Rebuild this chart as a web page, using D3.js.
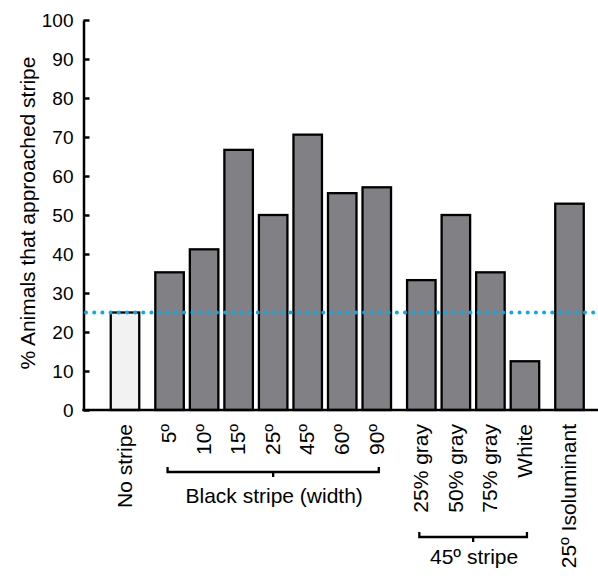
<!DOCTYPE html>
<html>
<head>
<meta charset="utf-8">
<script src="https://cdn.jsdelivr.net/npm/d3@7/dist/d3.min.js"></script>
<style>
  body { margin: 0; background: #fff; }
  text { font-family: "Liberation Sans", Arial, sans-serif; fill: #000; }
</style>
</head>
<body>
<div id="chart"></div>
<script>
const categories = ['No stripe', '5º', '10º', '15º', '25º', '45º', '60º', '90º',
  '25% gray', '50% gray', '75% gray', 'White', '25º Isoluminant'];
const values = [25, 35.3, 41.2, 66.7, 50, 70.6, 55.6, 57.1, 33.3, 50, 35.3, 12.5, 52.9];
const groups = [0, 1, 1, 1, 1, 1, 1, 1, 2, 2, 2, 2, 3];
const controlCategory = 'No stripe';
const yTicks = [0, 10, 20, 30, 40, 50, 60, 70, 80, 90, 100];
const chanceLevel = 25;
const bracketLabels = ['Black stripe (width)', '45º stripe'];
const bracketFrom = ['5º', '25% gray'];
const bracketTo = ['90º', 'White'];

const W = 598, H = 578;
const svg = d3.select('#chart').append('svg').attr('width', W).attr('height', H);

// slot index with extra gap between groups
const GROUP_GAP = 0.29;
const slot = i => i + groups[i] * GROUP_GAP;
const x = d3.scaleLinear().domain([0, slot(categories.length - 1)]).range([125, 569.5]);
const y = d3.scaleLinear().domain([0, 100]).range([410, 20]);
const barW = 28.5;
const xc = c => x(slot(categories.indexOf(c)));

// bars
svg.append('g').selectAll('rect')
  .data(categories).join('rect')
    .attr('x', (d, i) => x(slot(i)) - barW / 2)
    .attr('y', (d, i) => y(values[i]))
    .attr('width', barW)
    .attr('height', (d, i) => y(0) - y(values[i]))
    .attr('fill', d => d === controlCategory ? '#f2f2f2' : '#818085')
    .attr('stroke', '#000').attr('stroke-width', 2.3);

// y axis, ticks pointing inward
const yAxis = svg.append('g').attr('transform', 'translate(83.5,0)')
  .call(d3.axisLeft(y).tickValues(yTicks).tickSize(-6).tickSizeOuter(0).tickPadding(10));
yAxis.select('.domain').attr('stroke', '#000').attr('stroke-width', 2.5);
yAxis.selectAll('.tick line').attr('stroke', '#000').attr('stroke-width', 2.5);
yAxis.selectAll('.tick text').attr('font-size', '19px')
  .style('font-family', '"Liberation Sans", Arial, sans-serif').attr('fill', '#000');

// baseline
svg.append('line')
  .attr('x1', 82.3).attr('x2', W).attr('y1', y(0)).attr('y2', y(0))
  .attr('stroke', '#000').attr('stroke-width', 2.5);

// chance level (dotted)
svg.append('line')
  .attr('x1', 86).attr('x2', W).attr('y1', y(chanceLevel)).attr('y2', y(chanceLevel))
  .attr('stroke', '#00aeef').attr('stroke-width', 4)
  .attr('stroke-linecap', 'round').attr('stroke-dasharray', '0.01 8.17');

// y title
svg.append('text')
  .attr('transform', `translate(35,${y(50) - 2}) rotate(-90)`)
  .attr('text-anchor', 'middle').attr('font-size', '21px')
  .text('% Animals that approached stripe');

// category labels
svg.append('g').selectAll('text')
  .data(categories).join('text')
    .attr('transform', (d, i) => `translate(${x(slot(i))},424) rotate(-90)`)
    .attr('text-anchor', 'end').attr('dy', '0.32em')
    .attr('font-size', '21px')
    .text(d => d);

// group brackets
const bracketY = [472, 537];
const labelY = [503, 564];
bracketLabels.forEach((lab, k) => {
  const x0 = xc(bracketFrom[k]) - 2, x1 = xc(bracketTo[k]) + 2, xm = (x0 + x1) / 2;
  svg.append('path')
    .attr('d', `M${x0},${bracketY[k] - 5}V${bracketY[k]}H${x1}V${bracketY[k] - 5}M${xm},${bracketY[k]}V${bracketY[k] + 5}`)
    .attr('fill', 'none').attr('stroke', '#000').attr('stroke-width', 2.3);
  svg.append('text')
    .attr('x', xm + 1).attr('y', labelY[k])
    .attr('text-anchor', 'middle').attr('font-size', '21px')
    .text(lab);
});
</script>
</body>
</html>
